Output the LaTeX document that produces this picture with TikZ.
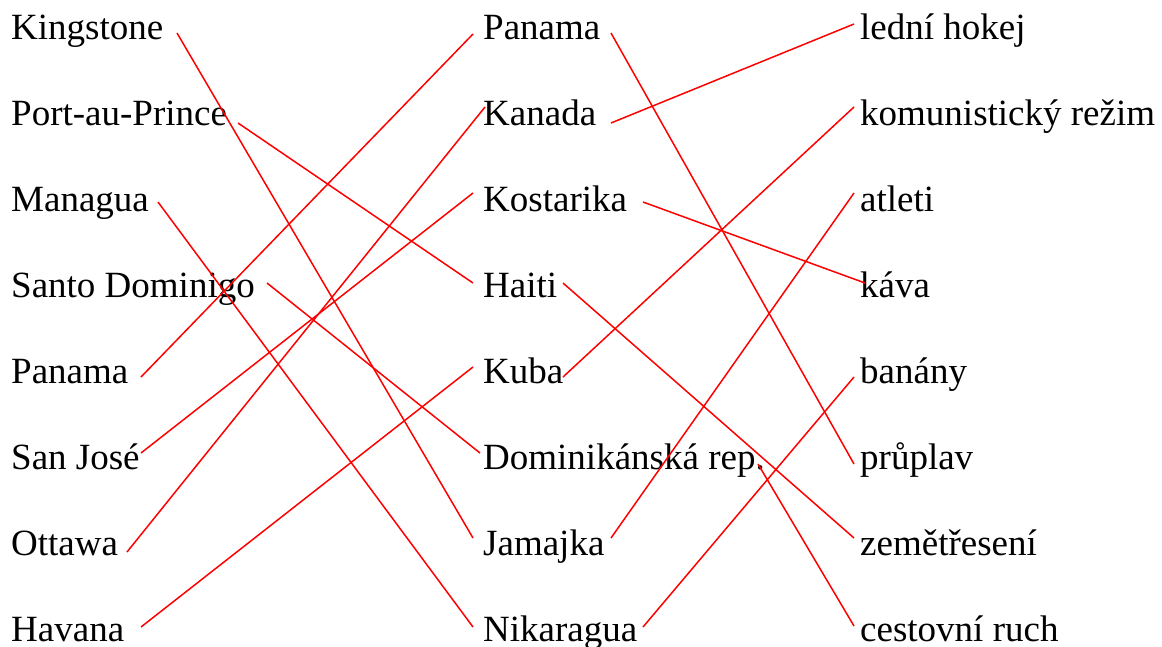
\documentclass[tikz,border=0pt]{standalone}
\usepackage{fontspec}
\setmainfont{Liberation Serif}
\begin{document}
\begin{tikzpicture}[x=1pt,y=-1pt,
  lbl/.style={anchor=base west, inner sep=0pt, font=\fontsize{37pt}{44pt}\selectfont},
  conn/.style={draw=red, line width=1.5pt}]
\useasboundingbox[fill=white] (0,0) rectangle (1162,646);
% left column
\node[lbl] (L1) at (11,39)  {Kingstone};
\node[lbl] (L2) at (11,125) {Port-au-Prince};
\node[lbl] (L3) at (11,211) {Managua};
\node[lbl] (L4) at (11,297) {Santo Dominigo};
\node[lbl] (L5) at (11,383) {Panama};
\node[lbl] (L6) at (11,469) {San José};
\node[lbl] (L7) at (11,555) {Ottawa};
\node[lbl] (L8) at (11,641) {Havana};
% middle column
\node[lbl] (M1) at (483,39)  {Panama};
\node[lbl] (M2) at (483,125) {Kanada};
\node[lbl] (M3) at (483,211) {Kostarika};
\node[lbl] (M4) at (483,297) {Haiti};
\node[lbl] (M5) at (483,383) {Kuba};
\node[lbl] (M6) at (483,469) {Dominikánská rep.};
\node[lbl] (M7) at (483,555) {Jamajka};
\node[lbl] (M8) at (483,641) {Nikaragua};
% right column
\node[lbl] (R1) at (860,39)  {lední hokej};
\node[lbl] (R2) at (860,125) {komunistický režim};
\node[lbl] (R3) at (860,211) {atleti};
\node[lbl] (R4) at (860,297) {káva};
\node[lbl] (R5) at (860,383) {banány};
\node[lbl] (R6) at (860,469) {průplav};
\node[lbl] (R7) at (860,555) {zemětřesení};
\node[lbl] (R8) at (860,641) {cestovní ruch};
% left -> middle
\draw[conn] ([shift={(166,-6)}]L1.base west) -- ([shift={(-10,-17)}]M7.base west);
\draw[conn] ([shift={(227,-2)}]L2.base west) -- ([shift={(-10,-14)}]M4.base west);
\draw[conn] ([shift={(147,-9)}]L3.base west) -- ([shift={(-10,-14)}]M8.base west);
\draw[conn] ([shift={(256,-14)}]L4.base west) -- ([shift={(-3,-16)}]M6.base west);
\draw[conn] ([shift={(130,-6)}]L5.base west) -- ([shift={(-10,-5)}]M1.base west);
\draw[conn] ([shift={(130,-16)}]L6.base west) -- ([shift={(-10,-18)}]M3.base west);
\draw[conn] ([shift={(116,-3)}]L7.base west) -- ([shift={(2,-18)}]M2.base west);
\draw[conn] ([shift={(130,-14)}]L8.base west) -- ([shift={(-10,-16)}]M5.base west);
% middle -> right
\draw[conn] ([shift={(128,-6)}]M1.base west) -- ([shift={(-6,-5)}]R6.base west);
\draw[conn] ([shift={(128,-2)}]M2.base west) -- ([shift={(-6,-15)}]R1.base west);
\draw[conn] ([shift={(160,-9)}]M3.base west) -- ([shift={(5,-14)}]R4.base west);
\draw[conn] ([shift={(80,-14)}]M4.base west) -- ([shift={(-6,-17)}]R7.base west);
\draw[conn] ([shift={(80,-6)}]M5.base west) -- ([shift={(-6,-18)}]R2.base west);
\draw[conn] ([shift={(275,-5)}]M6.base west) -- ([shift={(-6,-15)}]R8.base west);
\draw[conn] ([shift={(128,-17)}]M7.base west) -- ([shift={(-6,-18)}]R3.base west);
\draw[conn] ([shift={(160,-14)}]M8.base west) -- ([shift={(-6,-6)}]R5.base west);
\end{tikzpicture}
\end{document}
